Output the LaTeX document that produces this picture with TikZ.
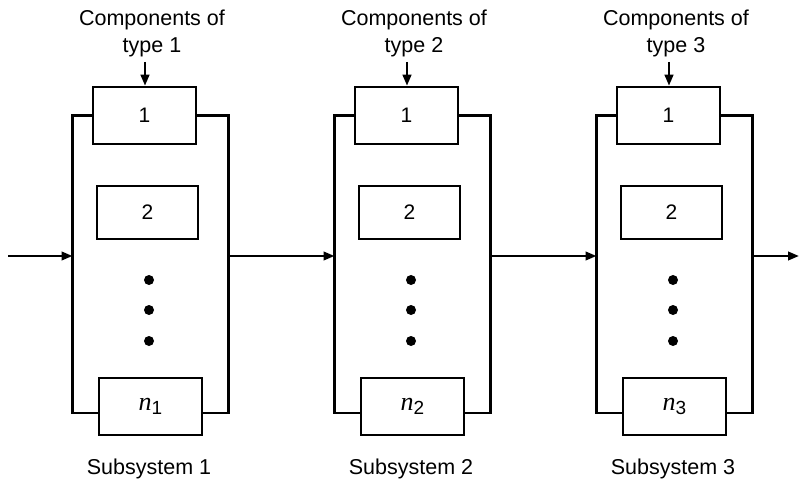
\documentclass[tikz,border=0pt]{standalone}
\usepackage{fontspec}
\setmainfont{Liberation Sans}
\newfontfamily\nserif{Liberation Serif}
\usetikzlibrary{arrows.meta}
\newcommand{\nsub}[1]{{\nserif\itshape\fontsize{26}{26}\selectfont n}\raisebox{-4pt}{\fontsize{19}{19}\selectfont #1}}
\begin{document}
\begin{tikzpicture}[x=1pt,y=-1pt,
  line width=2.5pt,
  comp/.style={draw,line width=2.5pt,minimum width=103pt,minimum height=57pt,inner sep=0pt,font=\fontsize{21}{24}\selectfont},
  lbl/.style={font=\fontsize{21.5}{25}\selectfont,align=center},
  arr/.style={-{Triangle[length=11pt,width=8.5pt]},line width=2.4pt}]
\useasboundingbox (0,0) rectangle (800,486);
\foreach \i/\dx in {1/0,2/262,3/524}{
  \begin{scope}[xshift=\dx pt]
    \node[comp] (b1s\i) at (144.5,115.5) {1};
    \node[comp,minimum width=101pt,minimum height=53pt] (b2s\i) at (147.5,212.5) {2};
    \node[comp] (bns\i) at (150.5,406.5) {\nsub{\i}};
    \coordinate (Ls\i) at (72.5,256);
    \coordinate (Rs\i) at (228.5,256);
    \fill (149,280) circle (5pt) (149,310) circle (5pt) (149,341) circle (5pt);
    \node[lbl] (sub\i) at (149,469) {Subsystem \i};
    \node[lbl] (ct\i) at (152,20) {Components of};
    \node[lbl] (ty\i) at (152,47) {type \i};
    \coordinate (tp\i) at (145,62);
    \draw[arr] (tp\i) -- (tp\i |- b1s\i.north);
    \draw (b1s\i.west) -| (Ls\i) |- ([yshift=-6.5pt]bns\i.west);
    \draw (b1s\i.east) -| (Rs\i) |- ([yshift=-6.5pt]bns\i.east);
  \end{scope}
}
\coordinate (in) at (8,256);
\coordinate (out) at (799,256);
\draw[arr] (in) -- (Ls1);
\draw[arr] (Rs1) -- (Ls2);
\draw[arr] (Rs2) -- (Ls3);
\draw[arr] (Rs3) -- (out);
\end{tikzpicture}
\end{document}
